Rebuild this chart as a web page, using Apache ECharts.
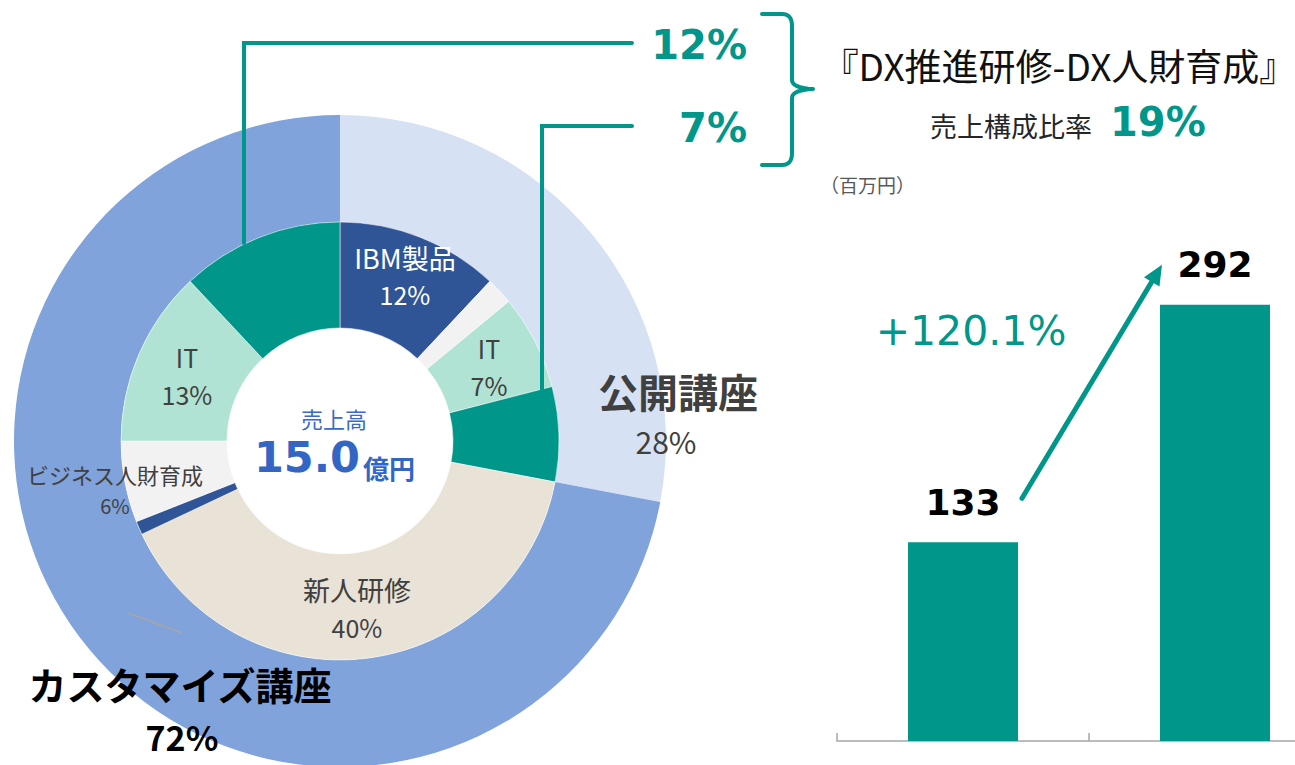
<!DOCTYPE html>
<html><head><meta charset="utf-8">
<script src="https://cdn.jsdelivr.net/npm/echarts@6/dist/echarts.min.js"></script>
<style>html,body{margin:0;padding:0;background:#fff}#c{width:1295px;height:765px}</style>
</head><body><div id="c"></div>
<script>
// ---- data ----
const outerNames = ['公開講座', 'カスタマイズ講座'];
const outerValues = [28, 72];
const innerNames = ['IBM製品', 'その他', 'IT', 'DX推進研修-DX人財育成', '新人研修', 'その他', 'ビジネス人財育成', 'IT', 'DX推進研修-DX人財育成'];
const innerValues = [12, 2, 7, 7, 40, 1, 6, 13, 12];
const salesLabel = '売上高';
const salesTotal = '15.0';
const salesUnit = '億円';
const dxShares = [12, 7];
const dxTotalShare = 19;
const dxTitle = '『DX推進研修-DX人財育成』';
const dxShareLabel = '売上構成比率';
const unitLabel = '（百万円）';
const barCategories = ['前期', '当期'];
const barValues = [133, 292];
const growthLabel = '+120.1%';

// ---- styles ----
const TEAL = '#00968A';
const JP = '"Noto Sans CJK JP", "Noto Sans", sans-serif';
const NUM = '"DejaVu Sans", "Noto Sans CJK JP", sans-serif';
const innerColors = ['#2F5597', '#F2F2F2', '#B0E3D3', TEAL, '#E9E2D6', '#2F5597', '#F2F2F2', '#B0E3D3', TEAL];
const outerColors = ['#D6E2F4', '#80A3DC'];
const PIE_CENTER = [340, 441];

const chart = echarts.init(document.getElementById('c'), null, {renderer: 'svg'});

chart.setOption({
  animation: false,
  backgroundColor: '#ffffff',
  grid: {left: 837, right: -46, top: 218, bottom: 24, outerBoundsMode: 'none', containLabel: false},
  xAxis: {
    type: 'category', data: barCategories,
    axisLine: {lineStyle: {color: '#A6A6A6', width: 1.5}},
    axisTick: {show: true, inside: true, length: 8, lineStyle: {color: '#A6A6A6', width: 1.5}},
    axisLabel: {show: false}, splitLine: {show: false}
  },
  yAxis: {type: 'value', min: 0, max: 350, show: false, splitLine: {show: false}},
  series: [
    {
      type: 'pie', silent: true, center: PIE_CENTER, radius: [219, 326],
      startAngle: 90, clockwise: true, avoidLabelOverlap: false,
      label: {show: false}, labelLine: {show: false},
      data: outerNames.map((n, i) => ({name: n, value: outerValues[i], itemStyle: {color: outerColors[i]}}))
    },
    {
      type: 'pie', silent: true, center: PIE_CENTER, radius: [113, 219],
      startAngle: 90, clockwise: true, avoidLabelOverlap: false,
      label: {show: false}, labelLine: {show: false},
      itemStyle: {borderColor: 'rgba(255,255,255,0.5)', borderWidth: 1},
      data: innerNames.map((n, i) => ({name: n, value: innerValues[i], itemStyle: {color: innerColors[i]}}))
    },
    {
      type: 'bar', data: barValues, barWidth: 110,
      itemStyle: {color: TEAL},
      label: {show: true, position: 'top', distance: 22, color: '#000', fontFamily: NUM, fontWeight: 'bold', fontSize: 36}
    }
  ]
});

function txt(x, y, text, font, fill, align) {
  return {type: 'text', silent: true, z: 100, style: {
    x: x, y: y, text: String(text), font: font, fill: fill,
    align: align || 'center', textAlign: align || 'center',
    verticalAlign: 'middle', textVerticalAlign: 'middle'
  }};
}
function quad(p0, c, p1, n) {
  const pts = [];
  for (let i = 0; i <= n; i++) {
    const t = i / n, u = 1 - t;
    pts.push([u * u * p0[0] + 2 * u * t * c[0] + t * t * p1[0], u * u * p0[1] + 2 * u * t * c[1] + t * t * p1[1]]);
  }
  return pts;
}

// label anchors for pie slices (index -> [x, nameY, pctY, nameSize, pctSize, color])
const innerLabelPos = {
  0: [405, 257, 294, 27, 25, '#ffffff'],
  2: [489, 348, 385, 25, 25, '#404040'],
  4: [357, 589, 627, 27, 25, '#404040'],
  6: [115, 474, 505, 22, 20, '#404040'],
  7: [187, 357, 394, 25, 25, '#404040']
};

const g = [];
Object.keys(innerLabelPos).forEach(k => {
  const p = innerLabelPos[k];
  g.push(txt(p[0], p[1], innerNames[k], p[3] + 'px ' + JP, p[5]));
  g.push(txt(p[0], p[2], innerValues[k] + '%', p[4] + 'px ' + JP, p[5]));
});
// outer labels
g.push(txt(678, 391, outerNames[0], 'bold 40px ' + JP, '#404040'));
g.push(txt(666, 441, outerValues[0] + '%', '30px ' + JP, '#404040'));
g.push(txt(180, 683, outerNames[1], 'bold 38px ' + JP, '#000000'));
g.push(txt(182, 736, outerValues[1] + '%', 'bold 34px ' + JP, '#000000'));
// center
g.push(txt(334, 418, salesLabel, '22px ' + JP, '#3A6BC4'));
g.push(txt(360, 457, salesTotal, 'bold 43px ' + NUM, '#3366C4', 'right'));
g.push(txt(363, 467, salesUnit, 'bold 26px ' + JP, '#3366C4', 'left'));
// stray leader line
g.push({type: 'polyline', silent: true, z: 90, shape: {points: [[128, 613], [182, 633]]}, style: {stroke: '#A6A6A6', lineWidth: 1.5, fill: null}});
// callout lines
g.push({type: 'polyline', silent: true, z: 95, shape: {points: [[244, 243], [244, 43], [632, 43]]}, style: {stroke: TEAL, lineWidth: 4, lineCap: 'round', fill: null}});
g.push({type: 'polyline', silent: true, z: 95, shape: {points: [[542, 392], [542, 126], [632, 126]]}, style: {stroke: TEAL, lineWidth: 4, lineCap: 'round', fill: null}});
g.push(txt(747, 45, dxShares[0] + '%', 'bold 40px ' + NUM, TEAL, 'right'));
g.push(txt(747, 128, dxShares[1] + '%', 'bold 40px ' + NUM, TEAL, 'right'));
// bracket
const br = [].concat(
  [[762, 14]],
  quad([782, 14], [792, 14], [792, 26], 8),
  quad([792, 80], [792, 88], [813, 89], 8),
  quad([813, 89], [792, 90], [792, 98], 8),
  quad([792, 153], [792, 165], [782, 165], 8),
  [[762, 165]]
);
g.push({type: 'polyline', silent: true, z: 95, shape: {points: br}, style: {stroke: TEAL, lineWidth: 4, fill: null, lineCap: 'round', lineJoin: 'round'}});
// titles
g.push(txt(1059, 65, dxTitle, '37px ' + JP, '#111111'));
g.push(txt(930, 125, dxShareLabel, '27px ' + JP, '#262626', 'left'));
g.push(txt(1110, 122, dxTotalShare + '%', 'bold 40px ' + NUM, TEAL, 'left'));
g.push(txt(820, 184, unitLabel, '19px ' + JP, '#595959', 'left'));
// growth arrow, anchored on bar positions
const p1 = chart.convertToPixel({seriesIndex: 2}, [0, barValues[0]]);
const p2 = chart.convertToPixel({seriesIndex: 2}, [1, barValues[1]]);
const s = [p1[0] + 59, p1[1] - 44];
const e = [p2[0] - 53, p2[1] - 40];
const dx = e[0] - s[0], dy = e[1] - s[1], L = Math.hypot(dx, dy);
const ux = dx / L, uy = dy / L, head = 20, hw = 9;
const b = [e[0] - ux * head, e[1] - uy * head];
g.push({type: 'line', silent: true, z: 95, shape: {x1: s[0], y1: s[1], x2: b[0] + ux * 2, y2: b[1] + uy * 2}, style: {stroke: TEAL, lineWidth: 5, lineCap: 'round'}});
g.push({type: 'polygon', silent: true, z: 95, shape: {points: [e, [b[0] - uy * hw, b[1] + ux * hw], [b[0] + uy * hw, b[1] - ux * hw]]}, style: {fill: TEAL}});
g.push(txt(971, 331, growthLabel, '41px ' + NUM, TEAL));

chart.setOption({graphic: {elements: g}});
</script></body></html>
